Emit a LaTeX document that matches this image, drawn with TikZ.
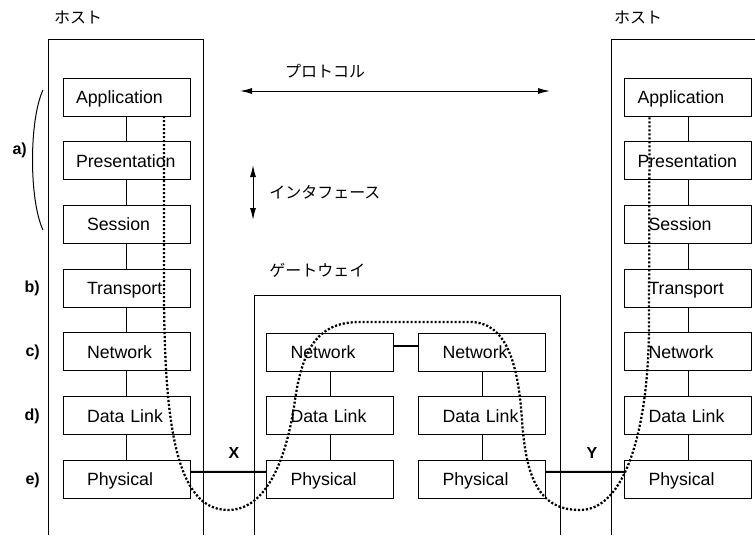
\documentclass[tikz,border=0pt]{standalone}
\usepackage{fontspec}
\setmainfont{Liberation Sans}
\newfontfamily\jpfont{Noto Sans CJK JP}
\usetikzlibrary{positioning, calc, arrows.meta}

\begin{document}
\begin{tikzpicture}[
    x=0.75pt, y=-0.75pt,
    node distance=19.3pt,
    layer/.style={draw, rectangle, line width=0.75pt, minimum height=28.5pt, text height=9.5pt, text depth=0pt, text width=59.25pt, inner xsep=18pt, inner ysep=0pt, outer sep=0pt, align=left, font=\fontsize{13.3}{15}\selectfont},
    longlayer/.style={layer, text width=75.75pt, inner xsep=9.75pt},
    tag/.style={font=\fontsize{12}{14}\selectfont\bfseries, inner sep=0pt},
    jp/.style={font=\jpfont\fontsize{12}{14}\selectfont, inner sep=0pt},
    wall/.style={line width=0.75pt},
    link/.style={line width=1.5pt},
    arrow/.style={{Latex[length=9pt,width=4.5pt]}-{Latex[length=9pt,width=4.5pt]}, line width=0.75pt},
    route/.style={line width=1.7pt, dash pattern=on 1.6pt off 1.4pt}
]
\useasboundingbox (0,0) rectangle (755,535);

% hosts and gateway
\draw[wall] (48,535) |- (203,40) -- (203,535);
\draw[wall] (611,535) |- (755,40);
\draw[wall] (254,535) |- (560,295) -- (560,535);

\node[jp] (hostl) at (78,17) {ホスト};
\node[jp] (hostr) at (638,17) {ホスト};
\node[jp, anchor=west] (gw) at (269,270) {ゲートウェイ};

% left host
\node[longlayer] (l1) at (126.5,97) {Application};
\node[longlayer, below=of l1] (l2) {Presentation};
\node[layer, below=of l2] (l3) {Session};
\node[layer, below=of l3] (l4) {Transport};
\node[layer, below=of l4] (l5) {Network};
\node[layer, below=of l5] (l6) {Data Link};
\node[layer, below=of l6] (l7) {Physical};

% right host
\node[longlayer] (r1) at (688,97) {Application};
\node[longlayer, below=of r1] (r2) {Presentation};
\node[layer, below=of r2] (r3) {Session};
\node[layer, below=of r3] (r4) {Transport};
\node[layer, below=of r4] (r5) {Network};
\node[layer, below=of r5] (r6) {Data Link};
\node[layer, below=of r6] (r7) {Physical};

% gateway
\node[layer] (gl5) at (330,352) {Network};
\node[layer, below=of gl5] (gl6) {Data Link};
\node[layer, below=of gl6] (gl7) {Physical};
\node[layer] (gr5) at (482,352) {Network};
\node[layer, below=of gr5] (gr6) {Data Link};
\node[layer, below=of gr6] (gr7) {Physical};

\foreach \i/\j in {1/2, 2/3, 3/4, 4/5, 5/6, 6/7} {
    \draw[wall] (l\i) -- (l\j);
    \draw[wall] (r\i) -- (r\j);
}
\foreach \i/\j in {5/6, 6/7} {
    \draw[wall] (gl\i) -- (gl\j);
    \draw[wall] (gr\i) -- (gr\j);
}

\draw[link] ($(gl5.east)+(0,-6.5)$) -- ($(gr5.west)+(0,-6.5)$);
\draw[link] ($(l7.east)+(0,-7.5)$) -- ($(gl7.west)+(0,-7.5)$);
\draw[link] ($(gr7.east)+(0,-7.5)$) -- ($(r7.west)+(0,-7.5)$);
\node[tag] (x) at (234,453) {X};
\node[tag] (y) at (592,453) {Y};

% layer tags
\draw[wall] (43,90) .. controls (29,120) and (29,200) .. (43,230);
\node[tag, anchor=east] (ta) at (27,150) {a)};
\node[tag, anchor=east] (tb) at (40,288) {b)};
\node[tag, anchor=east] (tc) at (40,352) {c)};
\node[tag, anchor=east] (td) at (40,416) {d)};
\node[tag, anchor=east] (te) at (40,480) {e)};

% protocol and interface
\coordinate (pl) at (240,91);
\coordinate (pr) at (550,91);
\draw[arrow] (pl) -- (pr);
\node[jp] (proto) at (325,71) {プロトコル};
\coordinate (it) at (253,165);
\coordinate (ib) at (253,220);
\draw[arrow] (it) -- (ib);
\node[jp, anchor=west] (iface) at (269,192) {インタフェース};

% data path
\draw[route] ($(l1.south east)+(-26,0)$) -- (164,300)
    .. controls (165,420) and (175,510) .. (228,510)
    .. controls (262,510) and (285,470) .. (295,400)
    .. controls (303,345) and (320,322) .. (360,322)
    -- (470,322)
    .. controls (505,322) and (518,360) .. (522,420)
    .. controls (526,480) and (540,510) .. (580,510)
    .. controls (625,510) and (648,430) .. (649,330)
    -- ($(r1.south west)+(25,0)$);
\end{tikzpicture}
\end{document}
